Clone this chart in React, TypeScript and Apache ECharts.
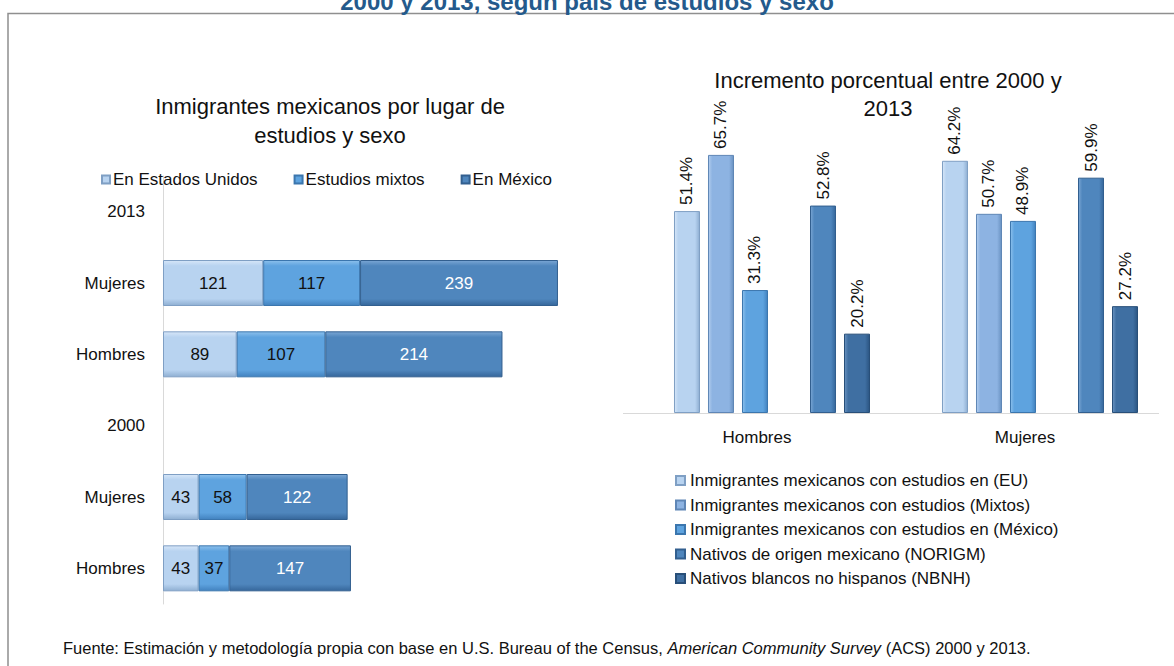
import React, { useEffect, useRef } from "react";
import * as echarts from "echarts";

// ---------- data ----------
const leftCategories = ["2013", "Mujeres", "Hombres", "2000", "Mujeres", "Hombres"];
const leftSeriesNames = ["En Estados Unidos", "Estudios mixtos", "En México"];
const enEstadosUnidos = [null, 121, 89, null, 43, 43];
const estudiosMixtos = [null, 117, 107, null, 58, 37];
const enMexico = [null, 239, 214, null, 122, 147];

const rightCategories = ["Hombres", "Mujeres"];
const rightSeriesNames = [
  "Inmigrantes mexicanos con estudios en (EU)",
  "Inmigrantes mexicanos con estudios (Mixtos)",
  "Inmigrantes mexicanos con estudios en (México)",
  "Nativos de origen mexicano (NORIGM)",
  "Nativos blancos no hispanos (NBNH)",
];
const incEU = [51.4, 64.2];
const incMixtos = [65.7, 50.7];
const incMexico = [31.3, 48.9];
const incNorigm = [52.8, 59.9];
const incNbnh = [20.2, 27.2];
const emptyGap = [null, null];

const mainTitle = "2000 y 2013, según país de estudios y sexo";
const leftTitle = "Inmigrantes mexicanos por lugar de\nestudios y sexo";
const rightTitle = "Incremento porcentual entre 2000 y\n2013";
const footerText =
  "Fuente: Estimación y metodología propia con base en U.S. Bureau of the Census, {i|American Community Survey} (ACS) 2000 y 2013.";

// ---------- styles ----------
const FONT = "'Liberation Sans', Arial, sans-serif";
const TXT = "#111111";

const palette = {
  light: { base: "#B8D3F0", hi: "#D6E6F8", lo: "#8FAFD2", border: "#7F9FC4" },
  mixed: { base: "#8DB3E2", hi: "#B2CDEE", lo: "#6A92C2", border: "#5F86B6" },
  bright: { base: "#5EA3DF", hi: "#8CC0EC", lo: "#4282BF", border: "#3B76AE" },
  dark: { base: "#4F86BD", hi: "#7AA6D4", lo: "#36679B", border: "#325F8F" },
  darker: { base: "#3F6FA2", hi: "#6A93C0", lo: "#2B5582", border: "#284F79" },
};

function gradH(c: any) {
  return new echarts.graphic.LinearGradient(0, 0, 0, 1, [
    { offset: 0, color: c.hi },
    { offset: 0.12, color: c.base },
    { offset: 0.85, color: c.base },
    { offset: 1, color: c.lo },
  ]);
}
function gradV(c: any) {
  return new echarts.graphic.LinearGradient(0, 0, 1, 0, [
    { offset: 0, color: c.hi },
    { offset: 0.15, color: c.base },
    { offset: 0.82, color: c.base },
    { offset: 1, color: c.lo },
  ]);
}

export default function App() {
  const ref = useRef<HTMLDivElement>(null);

  useEffect(() => {
    if (!ref.current) return;
    const chart = echarts.init(ref.current, null, { renderer: "svg" });

    const leftData = [enEstadosUnidos, estudiosMixtos, enMexico];
    const leftColors = [palette.light, palette.bright, palette.dark];
    const leftLabelColors = [TXT, TXT, "#ffffff"];

    const leftSeries = leftSeriesNames.map((name, i) => ({
      name,
      type: "bar",
      stack: "left",
      xAxisIndex: 0,
      yAxisIndex: 0,
      barWidth: 46,
      data: leftData[i],
      itemStyle: {
        color: gradH(leftColors[i]),
        borderColor: leftColors[i].border,
        borderWidth: 1,
      },
      label: {
        show: true,
        position: "inside",
        fontFamily: FONT,
        fontSize: 17,
        color: leftLabelColors[i],
      },
    }));

    const rightData = [incEU, incMixtos, incMexico, incNorigm, incNbnh];
    const rightColors = [palette.light, palette.mixed, palette.bright, palette.dark, palette.darker];
    const rightSeries: any[] = [];
    rightSeriesNames.forEach((name, i) => {
      if (i === 3) {
        rightSeries.push({
          name: "__gap",
          type: "bar",
          xAxisIndex: 1,
          yAxisIndex: 1,
          barWidth: 26,
          barGap: "30.77%",
          data: emptyGap,
        });
      }
      rightSeries.push({
        name,
        type: "bar",
        xAxisIndex: 1,
        yAxisIndex: 1,
        barWidth: 26,
        barGap: "30.77%",
        data: rightData[i],
        itemStyle: {
          color: gradV(rightColors[i]),
          borderColor: rightColors[i].border,
          borderWidth: 1,
        },
        label: {
          show: true,
          position: "top",
          rotate: 90,
          align: "left",
          verticalAlign: "middle",
          distance: 6,
          fontFamily: FONT,
          fontSize: 17,
          color: TXT,
          formatter: (p: any) => Number(p.value).toFixed(1) + "%",
        },
      });
    });

    chart.setOption({
      animation: false,
      backgroundColor: "#ffffff",
      textStyle: { fontFamily: FONT },
      legend: [
        {
          data: leftSeriesNames,
          left: 96,
          top: 166,
          itemWidth: 8,
          itemHeight: 8,
          itemGap: 36,
          icon: "rect",
          textStyle: { fontFamily: FONT, fontSize: 17, color: TXT, padding: [0, 0, 0, -2] },
          selectedMode: false,
        },
        {
          data: rightSeriesNames,
          orient: "vertical",
          left: 670,
          top: 467,
          itemWidth: 9,
          itemHeight: 9,
          itemGap: 7.5,
          icon: "rect",
          textStyle: { fontFamily: FONT, fontSize: 17, color: TXT },
          selectedMode: false,
        },
      ],
      grid: [
        { left: 163, top: 176, width: 414, height: 428 },
        { left: 638, top: 138, width: 536, height: 275 },
      ],
      xAxis: [
        { type: "value", gridIndex: 0, min: 0, max: 500, show: false },
        {
          type: "category",
          gridIndex: 1,
          data: rightCategories,
          axisLine: { show: false },
          axisTick: { show: false },
          axisLabel: {
            margin: 16,
            fontFamily: FONT,
            fontSize: 17,
            color: TXT,
            padding: [0, 30, 0, 0],
          },
        },
      ],
      yAxis: [
        {
          type: "category",
          gridIndex: 0,
          data: leftCategories,
          inverse: true,
          axisLine: { show: true, lineStyle: { color: "#D9D9D9", width: 1 } },
          axisTick: { show: false },
          axisLabel: { margin: 18, fontFamily: FONT, fontSize: 17, color: TXT },
        },
        { type: "value", gridIndex: 1, min: 0, max: 70, show: false },
      ],
      series: [...leftSeries, ...rightSeries],
      graphic: [
        {
          type: "rect",
          silent: true,
          shape: { x: 8, y: 13.5, width: 1200, height: 700 },
          style: { fill: "none", stroke: "#8F8F8F", lineWidth: 1.5 },
          z: -10,
        },
        {
          type: "text",
          x: 587,
          y: 1,
          style: {
            text: mainTitle,
            align: "center",
            verticalAlign: "middle",
            fontFamily: FONT,
            fontWeight: "bold",
            fontSize: 24,
            fill: "#245A8C",
          },
        },
        {
          type: "text",
          x: 330,
          y: 120.5,
          style: {
            text: leftTitle,
            align: "center",
            verticalAlign: "middle",
            fontFamily: FONT,
            fontSize: 22,
            lineHeight: 29,
            fill: TXT,
          },
        },
        {
          type: "text",
          x: 888,
          y: 94,
          style: {
            text: rightTitle,
            align: "center",
            verticalAlign: "middle",
            fontFamily: FONT,
            fontSize: 22,
            lineHeight: 28,
            fill: TXT,
          },
        },
        {
          type: "line",
          silent: true,
          shape: { x1: 623, y1: 413.5, x2: 1159, y2: 413.5 },
          style: { stroke: "#D9D9D9", lineWidth: 1 },
        },
        {
          type: "text",
          x: 63,
          y: 648,
          style: {
            text: footerText,
            align: "left",
            verticalAlign: "middle",
            fontFamily: FONT,
            fontSize: 16.5,
            fill: TXT,
            rich: {
              i: { fontStyle: "italic", fontFamily: FONT, fontSize: 16.5, fill: TXT },
            },
          },
        },
      ],
    });

    return () => chart.dispose();
  }, []);

  return (
    <div
      ref={ref}
      style={{ position: "fixed", left: 0, top: 0, width: 1174, height: 666, background: "#fff" }}
    />
  );
}
